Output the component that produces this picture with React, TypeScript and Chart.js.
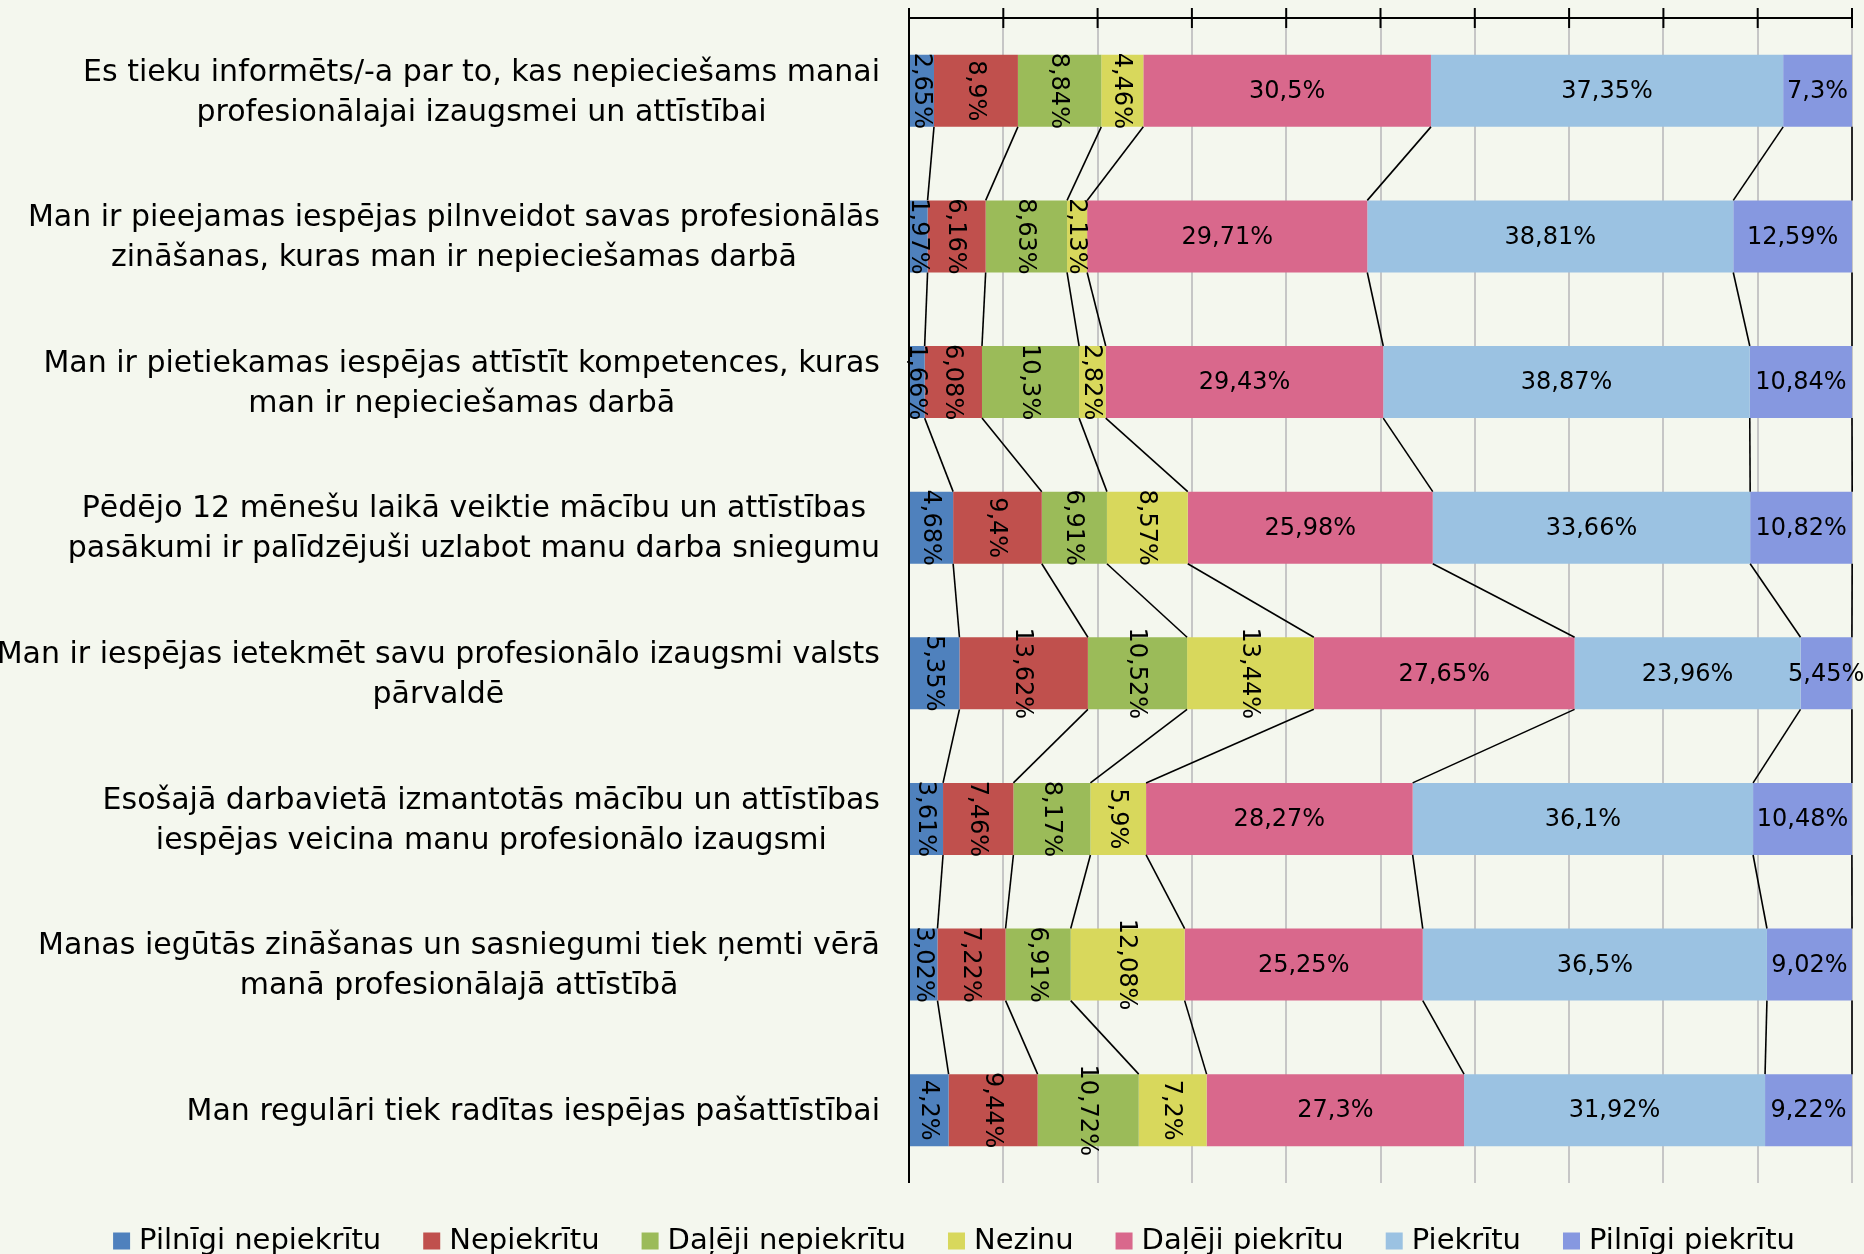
import React, { useEffect, useRef } from "react";
import { Chart, registerables } from "chart.js";

Chart.register(...registerables);

const categories: (string | string[])[] = [
  ["Es tieku informēts/-a par to, kas nepieciešams manai", "profesionālajai izaugsmei un attīstībai"],
  ["Man ir pieejamas iespējas pilnveidot savas profesionālās", "zināšanas, kuras man ir nepieciešamas darbā"],
  ["Man ir pietiekamas iespējas attīstīt kompetences, kuras", "man ir nepieciešamas darbā"],
  ["Pēdējo 12 mēnešu laikā veiktie mācību un attīstības", "pasākumi ir palīdzējuši uzlabot manu darba sniegumu"],
  ["Man ir iespējas ietekmēt savu profesionālo izaugsmi valsts", "pārvaldē"],
  ["Esošajā darbavietā izmantotās mācību un attīstības", "iespējas veicina manu profesionālo izaugsmi"],
  ["Manas iegūtās zināšanas un sasniegumi tiek ņemti vērā", "manā profesionālajā attīstībā"],
  "Man regulāri tiek radītas iespējas pašattīstībai",
];

const seriesNames = [
  "Pilnīgi nepiekrītu",
  "Nepiekrītu",
  "Daļēji nepiekrītu",
  "Nezinu",
  "Daļēji piekrītu",
  "Piekrītu",
  "Pilnīgi piekrītu",
];

const pilnigiNepiekritu = [2.65, 1.97, 1.66, 4.68, 5.35, 3.61, 3.02, 4.2];
const nepiekritu = [8.9, 6.16, 6.08, 9.4, 13.62, 7.46, 7.22, 9.44];
const dalejiNepiekritu = [8.84, 8.63, 10.3, 6.91, 10.52, 8.17, 6.91, 10.72];
const nezinu = [4.46, 2.13, 2.82, 8.57, 13.44, 5.9, 12.08, 7.2];
const dalejiPiekritu = [30.5, 29.71, 29.43, 25.98, 27.65, 28.27, 25.25, 27.3];
const piekritu = [37.35, 38.81, 38.87, 33.66, 23.96, 36.1, 36.5, 31.92];
const pilnigiPiekritu = [7.3, 12.59, 10.84, 10.82, 5.45, 10.48, 9.02, 9.22];

const xTicks = [0, 10, 20, 30, 40, 50, 60, 70, 80, 90, 100];

const colors = ["#4f81bd", "#c0504d", "#9bbb59", "#d8d85c", "#d9688c", "#9bc2e2", "#8698e0"];
const BG = "#f4f7ee";
const FONT = "'DejaVu Sans', sans-serif";

export default function App() {
  const ref = useRef<HTMLCanvasElement>(null);

  useEffect(() => {
    document.body.style.margin = "0";
    document.body.style.background = BG;
    const canvas = ref.current!;
    const seriesValues = [
      pilnigiNepiekritu,
      nepiekritu,
      dalejiNepiekritu,
      nezinu,
      dalejiPiekritu,
      piekritu,
      pilnigiPiekritu,
    ];

    const fmt = (v: number) => String(v).replace(".", ",") + "%";

    const plugin = {
      id: "custom",
      beforeDraw(chart: any) {
        const ctx = chart.ctx;
        ctx.save();
        ctx.fillStyle = BG;
        ctx.fillRect(0, 0, chart.width, chart.height);
        ctx.restore();
      },
      afterDatasetsDraw(chart: any) {
        const ctx = chart.ctx;
        ctx.save();
        // series lines
        ctx.strokeStyle = "#000";
        ctx.lineWidth = 1.6;
        const n = chart.data.labels.length;
        for (let k = 0; k < chart.data.datasets.length; k++) {
          const meta = chart.getDatasetMeta(k);
          for (let i = 0; i < n - 1; i++) {
            const a = meta.data[i].getProps(["x", "y", "height"], true);
            const b = meta.data[i + 1].getProps(["x", "y", "height"], true);
            ctx.beginPath();
            ctx.moveTo(a.x, a.y + a.height / 2);
            ctx.lineTo(b.x, b.y - b.height / 2);
            ctx.stroke();
          }
        }
        // data labels
        ctx.fillStyle = "#000";
        ctx.font = `24px ${FONT}`;
        ctx.textAlign = "center";
        ctx.textBaseline = "middle";
        chart.data.datasets.forEach((ds: any, k: number) => {
          const meta = chart.getDatasetMeta(k);
          meta.data.forEach((el: any, i: number) => {
            const p = el.getProps(["x", "y", "base"], true);
            const cx = (p.x + p.base) / 2;
            const txt = fmt(ds.data[i]);
            if (k < 4) {
              ctx.save();
              ctx.translate(cx, p.y);
              ctx.rotate(Math.PI / 2);
              ctx.fillText(txt, 0, 1);
              ctx.restore();
            } else {
              ctx.fillText(txt, cx, p.y + 1);
            }
          });
        });
        ctx.restore();
      },
      afterDraw(chart: any) {
        const ctx = chart.ctx;
        const area = chart.chartArea;
        const xs = chart.scales.x;
        const ys = chart.scales.y;
        ctx.save();
        ctx.strokeStyle = "#000";
        ctx.lineWidth = 2;
        // top axis
        ctx.beginPath();
        ctx.moveTo(area.left, area.top);
        ctx.lineTo(area.right, area.top);
        ctx.stroke();
        xTicks.forEach((v) => {
          const x = xs.getPixelForValue(v);
          ctx.beginPath();
          ctx.moveTo(x, area.top - 10);
          ctx.lineTo(x, area.top + 10);
          ctx.stroke();
        });
        // left axis
        ctx.beginPath();
        ctx.moveTo(area.left, area.top);
        ctx.lineTo(area.left, area.bottom);
        ctx.stroke();

        // category labels
        ctx.fillStyle = "#000";
        ctx.font = `30px ${FONT}`;
        ctx.textAlign = "center";
        ctx.textBaseline = "middle";
        const rightEdge = area.left - 29;
        chart.data.labels.forEach((lab: any, i: number) => {
          const lines: string[] = Array.isArray(lab) ? lab : [lab];
          const maxW = Math.max(...lines.map((l) => ctx.measureText(l).width));
          const cx = rightEdge - maxW / 2;
          const cy = ys.getPixelForValue(i);
          lines.forEach((l, j) => {
            ctx.fillText(l, cx, cy + (j - (lines.length - 1) / 2) * 40 + 2);
          });
        });

        // legend
        ctx.font = `29px ${FONT}`;
        ctx.textAlign = "left";
        const box = 17;
        const gap = 9;
        const itemGap = 42;
        const widths = chart.data.datasets.map((ds: any) => box + gap + ctx.measureText(ds.label).width);
        const total = widths.reduce((a: number, b: number) => a + b, 0) + itemGap * (widths.length - 1);
        let x = 954 - total / 2;
        const ly = 1241;
        chart.data.datasets.forEach((ds: any, k: number) => {
          ctx.fillStyle = ds.backgroundColor;
          ctx.fillRect(x, ly - box / 2, box, box);
          ctx.fillStyle = "#000";
          ctx.fillText(ds.label, x + box + gap, ly);
          x += widths[k] + itemGap;
        });
        ctx.restore();
      },
    };

    const chart = new Chart(canvas, {
      type: "bar",
      data: {
        labels: categories,
        datasets: seriesNames.map((name, i) => ({
          label: name,
          data: seriesValues[i],
          backgroundColor: colors[i],
          borderWidth: 0,
          categoryPercentage: 0.5,
          barPercentage: 0.99,
        })),
      },
      options: {
        indexAxis: "y",
        responsive: false,
        animation: false,
        layout: { padding: { left: 909, right: 12, top: 18, bottom: 71 } },
        plugins: { legend: { display: false }, tooltip: { enabled: false } },
        scales: {
          x: {
            position: "top",
            stacked: true,
            min: 0,
            max: 100,
            ticks: { display: false, stepSize: 10 },
            grid: { color: "#c6c6c6", lineWidth: 2, drawTicks: false },
            border: { display: false },
          },
          y: { stacked: true, display: false },
        },
      },
      plugins: [plugin],
    } as any);

    return () => chart.destroy();
  }, []);

  return <canvas ref={ref} width={1864} height={1254} style={{ display: "block" }} />;
}
